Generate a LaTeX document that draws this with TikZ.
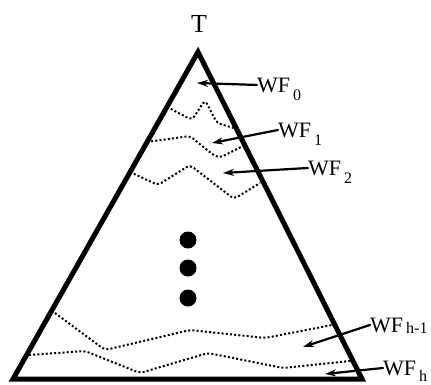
\documentclass[tikz,border=0pt]{standalone}
\usepackage{fontspec}
\setmainfont{Liberation Serif}
\usetikzlibrary{arrows.meta}
\begin{document}
\begin{tikzpicture}[x=1pt,y=-1pt,line join=round,line cap=round,
	wf/.style={inner sep=0pt,anchor=base west,font=\fontsize{22}{24}\selectfont},
	front/.style={line width=2pt,dash pattern=on 2pt off 2.2pt,line cap=butt,rounded corners=4pt},
	ptr/.style={line width=2.2pt,-{Stealth[length=11pt,width=7pt]}}]
	\def\sub#1#2{\kern3pt\raisebox{#1}[0pt][0pt]{\fontsize{16}{18}\selectfont #2}}
	\useasboundingbox (0,0) rectangle (431,384);
	\coordinate (top) at (198,52);\coordinate (bl) at (13,379);\coordinate (br) at (362,379);
	\draw[line width=5pt,line join=miter] (top)--(br)--(bl)--cycle;
	\node[font=\fontsize{26}{28}\selectfont,inner sep=0pt] (T) at (199,24) {T};
	% wavefronts
	\draw[front] (167,107)--(192,120)--(205,100)--(217,123)--(237,129);
	\draw[front] (147,142)--(190,136)--(212,154)--(219,158)--(245,145);
	\draw[front] (130,172)--(158,185)--(190,165)--(234,199)--(260,183);
	\draw[front] (55,313)--(105,350)--(190,330)--(265,338)--(332,325);
	\draw[front] (29,355)--(85,351)--(140,373)--(208,353)--(283,368)--(350,361);
	\foreach \y in {240,268,298} \fill (188,\y) circle(8.5pt);
	% labels
	\node[wf] (wf0) at (257,92) {WF\sub{-8pt}{0}};
	\node[wf] (wf1) at (278,137) {WF\sub{-8pt}{1}};
	\node[wf] (wf2) at (308,175) {WF\sub{-8pt}{2}};
	\node[wf] (wfh1) at (370,332) {WF\sub{-1pt}{h-1}};
	\node[wf] (wfh) at (383,375) {WF\sub{-6pt}{h}};
	\coordinate (a0) at (197,83);\coordinate (a1) at (212,143);\coordinate (a2) at (223,173);
	\coordinate (ah1) at (303,347);\coordinate (ah) at (325,374);
	\draw[ptr] (wf0.west)--(a0);
	\draw[ptr] (wf1.west)--(a1);
	\draw[ptr] (wf2.west)--(a2);
	\draw[ptr] (wfh1.west)--(ah1);
	\draw[ptr] (wfh.west)--(ah);
\end{tikzpicture}
\end{document}
